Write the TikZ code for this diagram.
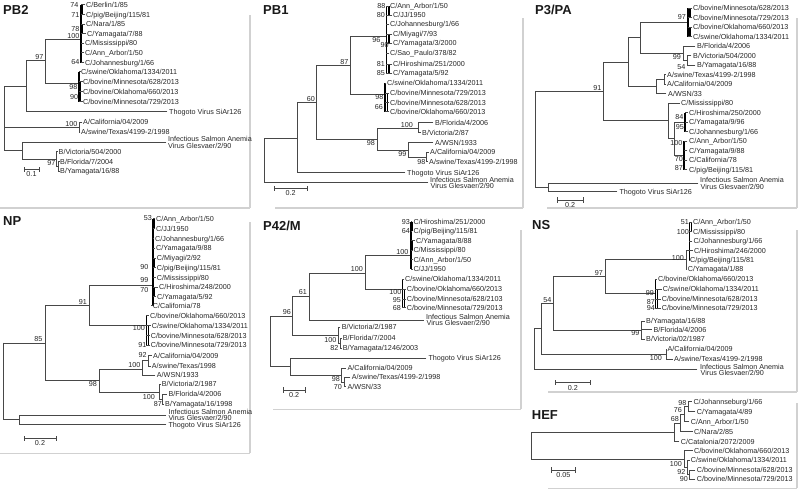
\documentclass[tikz,border=0pt]{standalone}
\usepackage{fontspec}
\setmainfont{Liberation Sans}
\newcommand\leaffont{\fontsize{7.2}{8}\selectfont}
\newcommand\paneltitlefont{\fontsize{13}{15}\selectfont\bfseries}
\tikzset{
  tl/.style={draw=black!72, line width=0.8pt, line cap=rect},
  cl/.style={draw=black, line width=1.3pt},
  fr/.style={draw=black!18, line width=1.6pt},
  lf/.style={anchor=west, inner sep=0pt, text height=5.2pt, text depth=0pt, font=\leaffont, text=black!85},
  bs/.style={anchor=east, inner sep=0pt, text height=5.2pt, text depth=0pt, font=\leaffont, text=black!85},
  sc/.style={anchor=center, inner sep=0pt, text height=5.2pt, text depth=0pt, font=\leaffont, text=black!85},
  ttl/.style={anchor=west, inner sep=0pt, text height=9.3pt, text depth=0pt, font=\paneltitlefont, text=black!90},
}
\newcommand\Lf[4]{\node[lf] (#1) at (#2,#3) {#4};}
\newcommand\Bs[4]{\node[bs] (#1) at (#2,#3) {#4};}
\newcommand\Sbar[5]{\draw[tl] (#2,#4-2.2) -- (#2,#4+2.2) (#2,#4) -- (#3,#4) (#3,#4-2.2) -- (#3,#4+2.2); \node[sc] (#1) at ({(#2+#3)/2},#4+5) {#5};}
\begin{document}
\begin{tikzpicture}[x=1pt,y=-1pt]
\useasboundingbox (0,0) rectangle (800,490);
% ================= frames
\draw[fr] (0,208) -- (250,208) (250,15) -- (250,208);
\draw[fr] (275,208) -- (523,208) (523,18) -- (523,208);
\draw[fr] (547,208) -- (797,208) (797,18) -- (797,208);
\draw[fr] (0,453.3) -- (250,453.3) (250,222) -- (250,453.3);
\draw[fr] (273,409.3) -- (521,409.3) (521,230) -- (521,409.3);
\draw[fr] (548,391.7) -- (797,391.7) (797,230) -- (797,391.7);
\draw[fr] (548,488.3) -- (797,488.3) (797,403) -- (797,488.3);
% ================= PB2
\node[ttl] (tPB2) at (3,10) {PB2};
\draw[tl] (4,86.2) -- (4,150.7) (4,86.2) -- (26,86.2) (26,60.7) -- (26,111.7) (26,111.7) -- (167,111.7)
  (26,60.7) -- (45,60.7) (45,39) -- (45,83.3) (45,39) -- (80.5,39);
\draw[cl] (81,4.7) -- (81,62.7) (82.8,4.7) -- (82.8,14.7) (82.8,24) -- (82.8,33.7);
\foreach \y/\x in {4.7/85,14.7/85,24/85,33.7/86,43.3/84,52.7/84,62.7/84} \draw[tl] (81,\y) -- (\x,\y);
\Lf{a1}{86}{4.7}{C/Berlin/1/85}
\Lf{a2}{86}{14.7}{C/pig/Beijing/115/81}
\Lf{a3}{86}{24}{C/Nara/1/85}
\Lf{a4}{87}{33.7}{C/Yamagata/7/88}
\Lf{a5}{85}{43.3}{C/Mississippi/80}
\Lf{a6}{85}{52.7}{C/Ann\_Arbor/1/50}
\Lf{a7}{85}{62.7}{C/Johannesburg/1/66}
\Bs{ab1}{78.5}{4.5}{74}
\Bs{ab2}{79.5}{14.7}{71}
\Bs{ab3}{79.5}{28.5}{78}
\Bs{ab4}{79.5}{35.5}{100}
\Bs{ab5}{79.5}{61.7}{64}
\Bs{ab6}{43.5}{56.5}{97}
\draw[tl] (45,83.3) -- (78.5,83.3);
\draw[cl] (79,71.7) -- (79,101.7) (80.7,81.7) -- (80.7,101.7);
\foreach \y/\x in {71.7/80.5,81.7/82.5,91.7/82.5,101.7/82.5} \draw[tl] (79,\y) -- (\x,\y);
\Lf{a8}{81}{71.7}{C/swine/Oklahoma/1334/2011}
\Lf{a9}{83}{81.7}{C/bovine/Minnesota/628/2013}
\Lf{a10}{83}{91.7}{C/bovine/Oklahoma/660/2013}
\Lf{a11}{83}{101.7}{C/bovine/Minnesota/729/2013}
\Bs{ab7}{77.5}{87.3}{98}
\Bs{ab8}{78.3}{96.7}{90}
\Lf{a12}{169}{111.7}{Thogoto Virus SiAr126}
\draw[tl] (4,127.3) -- (79,127.3) (79,122.3) -- (79,132.3) (79,122.3) -- (82,122.3) (79,132.3) -- (80,132.3);
\Lf{a13}{83}{122.3}{A/California/04/2009}
\Lf{a14}{81}{132.3}{A/swine/Texas/4199-2/1998}
\Bs{ab9}{77.5}{124}{100}
\draw[tl] (4,150.7) -- (22.7,150.7) (22.7,142.3) -- (22.7,159) (22.7,142.3) -- (166,142.3);
\Lf{a15}{168}{139.3}{Infectious Salmon Anemia}
\Lf{a16}{168}{145.5}{Virus Glesvaer/2/90}
\draw[tl] (22.7,159) -- (56.7,159) (56.7,151.7) -- (56.7,166.3) (56.7,151.7) -- (57.5,151.7)
  (56.7,166.3) -- (58.3,166.3) (58.3,161.7) -- (58.3,171) (58.3,161.7) -- (59.3,161.7) (58.3,171) -- (59.3,171);
\Lf{a17}{58.5}{151.7}{B/Victoria/504/2000}
\Lf{a18}{60}{161.7}{B/Florida/7/2004}
\Lf{a19}{60}{171}{B/Yamagata/16/88}
\Bs{ab10}{55.5}{162.7}{97}
\Sbar{asb}{24}{39}{169.3}{0.1}
% ================= PB1
\node[ttl] (tPB1) at (263,9.5) {PB1};
\draw[tl] (264,138) -- (264,182.5) (264,138) -- (297.7,138) (264,182.5) -- (428,182.5)
  (297.7,102.4) -- (297.7,172.7) (297.7,172.7) -- (405,172.7)
  (297.7,102.4) -- (316.7,102.4) (316.7,65.5) -- (316.7,139.3)
  (316.7,65.5) -- (350.7,65.5) (350.7,36.7) -- (350.7,94.3)
  (350.7,36.7) -- (386,36.7) (350.7,94.3) -- (384.5,94.3);
\draw[cl] (386.8,6) -- (386.8,73.3) (389,6) -- (389,15) (389,34) -- (389,43.3) (389,64) -- (389,73.3);
\foreach \y/\x in {6/389,15/392,24/389,34/392,43.3/392,53.3/389,64/392,73.3/392} \draw[tl] (386.8,\y) -- (\x,\y);
\Lf{b1}{390}{6}{C/Ann\_Arbor/1/50}
\Lf{b2}{393}{15}{C/JJ/1950}
\Lf{b3}{390}{24}{C/Johannesburg/1/66}
\Lf{b4}{393}{34}{C/Miyagi/7/93}
\Lf{b5}{393}{43.3}{C/Yamagata/3/2000}
\Lf{b6}{390}{53.3}{C/Sao\_Paulo/378/82}
\Lf{b7}{393}{64}{C/Hiroshima/251/2000}
\Lf{b8}{393}{73.3}{C/Yamagata/5/92}
\Bs{bb1}{385.5}{5.5}{88}
\Bs{bb2}{385}{15}{80}
\Bs{bb3}{380.5}{39.5}{96}
\Bs{bb4}{388.8}{44.5}{90}
\Bs{bb5}{385}{64}{81}
\Bs{bb6}{385}{73.3}{85}
\Bs{bb7}{348.5}{62}{87}
\Bs{bb8}{315}{98.7}{60}
\draw[cl] (385,83.3) -- (385,111.7) (387.5,93.3) -- (387.5,111.7);
\foreach \y/\x in {83.3/386,93.3/389,102.7/389,111.7/389} \draw[tl] (385,\y) -- (\x,\y);
\Lf{b9}{387}{83.3}{C/swine/Oklahoma/1334/2011}
\Lf{b10}{390}{93.3}{C/bovine/Minnesota/729/2013}
\Lf{b11}{390}{102.7}{C/bovine/Minnesota/628/2013}
\Lf{b12}{390}{111.7}{C/bovine/Oklahoma/660/2013}
\Bs{bb9}{383.5}{97.3}{98}
\Bs{bb10}{383}{107.3}{66}
\draw[tl] (316.7,139.3) -- (377.3,139.3) (377.3,128.3) -- (377.3,150)
  (377.3,128.3) -- (418,128.3) (418,122.7) -- (418,132.7) (418,122.7) -- (433,122.7) (418,132.7) -- (420.5,132.7)
  (377.3,150) -- (408.3,150) (408.3,142.7) -- (408.3,157) (408.3,142.7) -- (433,142.7)
  (408.3,157) -- (426.7,157) (426.7,152.3) -- (426.7,161.7) (426.7,152.3) -- (428.5,152.3) (426.7,161.7) -- (427.5,161.7);
\Bs{bb11}{375}{143}{98}
\Bs{bb12}{413}{124.5}{100}
\Bs{bb13}{406.5}{153.5}{99}
\Bs{bb14}{425.5}{161.7}{98}
\Lf{b13}{435}{122.7}{B/Florida/4/2006}
\Lf{b14}{422}{132.7}{B/Victoria/2/87}
\Lf{b15}{435}{142.7}{A/WSN/1933}
\Lf{b16}{430}{152.3}{A/California/04/2009}
\Lf{b17}{429}{161.7}{A/swine/Texas/4199-2/1998}
\Lf{b18}{407}{172.7}{Thogoto Virus SiAr126}
\Lf{b19}{430}{179.5}{Infectious Salmon Anemia}
\Lf{b20}{430.5}{185.7}{Virus Glesvaer/2/90}
\Sbar{bsb}{274}{307.3}{188.3}{0.2}
% ================= P3/PA
\node[ttl] (tP3) at (535,9.5) {P3/PA};
\draw[tl] (535,91.4) -- (535,187.5) (535,91.4) -- (603.3,91.4) (603.3,62.05) -- (603.3,120.8)
  (603.3,62.05) -- (628.3,62.05) (628.3,37.7) -- (628.3,86.4)
  (628.3,37.7) -- (640,37.7) (640,22.25) -- (640,53.1) (640,22.25) -- (687.5,22.25) (640,53.1) -- (683,53.1)
  (683,46) -- (683,60.25) (683,46) -- (695,46) (683,60.25) -- (687,60.25) (687,55.5) -- (687,65)
  (687,55.5) -- (691,55.5) (687,65) -- (695,65)
  (628.3,86.4) -- (656,86.4) (656,79.25) -- (656,93.5) (656,79.25) -- (664,79.25) (664,74.5) -- (664,84)
  (664,74.5) -- (665.5,74.5) (664,84) -- (665.5,84) (656,93.5) -- (666,93.5)
  (603.3,120.8) -- (668,120.8) (668,103) -- (668,138.6) (668,103) -- (679.5,103) (668,138.6) -- (674,138.6)
  (674,122) -- (674,155.25) (674,122) -- (685,122) (674,155.25) -- (684,155.25)
  (535,187.5) -- (548.3,187.5) (548.3,183.3) -- (548.3,191.7) (548.3,183.3) -- (698,183.3) (548.3,191.7) -- (617,191.7);
\draw[cl] (688,8) -- (688,36.5) (690,8) -- (690,17.5) (690,27) -- (690,36.5)
  (685,112.5) -- (685,131.5) (684,141) -- (684,169.5);
\foreach \y in {8,17.5,27,36.5} \draw[tl] (688,\y) -- (692,\y);
\foreach \y in {112.5,122,131.5} \draw[tl] (685,\y) -- (687.5,\y);
\foreach \y in {141,150.5,160,169.5} \draw[tl] (684,\y) -- (687,\y);
\Lf{c1}{693}{8}{C/bovine/Minnesota/628/2013}
\Lf{c2}{693}{17.5}{C/bovine/Minnesota/729/2013}
\Lf{c3}{693}{27}{C/bovine/Oklahoma/660/2013}
\Lf{c4}{693}{36.5}{C/swine/Oklahoma/1334/2011}
\Lf{c5}{697}{46}{B/Florida/4/2006}
\Lf{c6}{693}{55.5}{B/Victoria/504/2000}
\Lf{c7}{697}{65}{B/Yamagata/16/88}
\Lf{c8}{667}{74.5}{A/swine/Texas/4199-2/1998}
\Lf{c9}{667}{84}{A/California/04/2009}
\Lf{c10}{668}{93.5}{A/WSN/33}
\Lf{c11}{681}{103}{C/Mississippi/80}
\Lf{c12}{689}{112.5}{C/Hiroshima/250/2000}
\Lf{c13}{689}{122}{C/Yamagata/9/96}
\Lf{c14}{689}{131.5}{C/Johannesburg/1/66}
\Lf{c15}{689}{141}{C/Ann\_Arbor/1/50}
\Lf{c16}{689}{150.5}{C/Yamagata/9/88}
\Lf{c17}{689}{160}{C/California/78}
\Lf{c18}{689}{169.5}{C/pig/Beijing/115/81}
\Lf{c19}{700}{180.2}{Infectious Salmon Anemia}
\Lf{c20}{700.5}{186.4}{Virus Glesvaer/2/90}
\Lf{c21}{619.3}{191.7}{Thogoto Virus SiAr126}
\Bs{cb1}{601.5}{87.5}{91}
\Bs{cb2}{686}{17}{97}
\Bs{cb3}{681}{57}{99}
\Bs{cb4}{685.5}{66.5}{54}
\Bs{cb5}{683.5}{117}{84}
\Bs{cb6}{684}{126.5}{95}
\Bs{cb7}{682.5}{143}{100}
\Bs{cb8}{683}{158.5}{70}
\Bs{cb9}{683}{167.5}{87}
\Sbar{csb}{557}{583}{200}{0.2}
% ================= NP
\node[ttl] (tNP) at (3,221) {NP};
\draw[tl] (3.3,342.9) -- (3.3,419.7) (3.3,342.9) -- (45,342.9) (3.3,419.7) -- (19.3,419.7)
  (19.3,415) -- (19.3,424.3) (19.3,415) -- (166,415) (19.3,424.3) -- (166,424.3)
  (45,305.7) -- (45,380) (45,305.7) -- (89.3,305.7) (89.3,285.7) -- (89.3,325)
  (89.3,285.7) -- (152.5,285.7) (89.3,325) -- (146.5,325)
  (45,380) -- (99.3,380) (99.3,369) -- (99.3,392.3)
  (99.3,369) -- (142.7,369) (142.7,360.7) -- (142.7,375) (142.7,375) -- (155,375)
  (142.7,360.7) -- (148.3,360.7) (148.3,355.5) -- (148.3,366) (148.3,355.5) -- (151.5,355.5) (148.3,366) -- (150.2,366)
  (99.3,392.3) -- (159.3,392.3) (159.3,384.3) -- (159.3,399.3) (159.3,384.3) -- (160.3,384.3)
  (159.3,399.3) -- (162.7,399.3) (162.7,394.3) -- (162.7,404.3) (162.7,394.3) -- (166.8,394.3) (162.7,404.3) -- (163.7,404.3);
\draw[cl] (153,218.5) -- (153,305.7) (154.6,218.5) -- (154.6,228.5) (154.6,258.3) -- (154.6,267.7) (154.6,287.3) -- (154.6,296.7);
\foreach \y/\x in {218.5/155,228.5/155,238.5/154,248.3/155,258.3/155.5,267.7/155.5,277.7/155.5,287.3/157.5,296.7/155.5,305.7/151.5} \draw[tl] (153,\y) -- (\x,\y);
\draw[cl] (146.7,315.7) -- (146.7,345) (148.4,325.7) -- (148.4,345);
\foreach \y/\x in {315.7/148.7,325.7/150.3,335.7/149.3,345/149.3} \draw[tl] (146.7,\y) -- (\x,\y);
\Lf{d1}{156}{218.5}{C/Ann\_Arbor/1/50}
\Lf{d2}{156}{228.5}{C/JJ/1950}
\Lf{d3}{155}{238.5}{C/Johannesburg/1/66}
\Lf{d4}{156}{248.3}{C/Yamagata/9/88}
\Lf{d5}{156.7}{258.3}{C/Miyagi/2/92}
\Lf{d6}{156.7}{267.7}{C/pig/Beijing/115/81}
\Lf{d7}{156.7}{277.7}{C/Mississippi/80}
\Lf{d8}{159}{287.3}{C/Hiroshima/248/2000}
\Lf{d9}{157}{296.7}{C/Yamagata/5/92}
\Lf{d10}{152.7}{305.7}{C/California/78}
\Lf{d11}{150}{315.7}{C/bovine/Oklahoma/660/2013}
\Lf{d12}{151.7}{325.7}{C/swine/Oklahoma/1334/2011}
\Lf{d13}{150.7}{335.7}{C/bovine/Minnesota/628/2013}
\Lf{d14}{150.7}{345}{C/bovine/Minnesota/729/2013}
\Lf{d15}{153}{355.5}{A/California/04/2009}
\Lf{d16}{151.7}{366}{A/swine/Texas/1998}
\Lf{d17}{156.7}{375}{A/WSN/1933}
\Lf{d18}{161.7}{384.3}{B/Victoria/2/1987}
\Lf{d19}{168.3}{394.3}{B/Florida/4/2006}
\Lf{d20}{165}{404.3}{B/Yamagata/16/1998}
\Lf{d21}{168.3}{411.7}{Infectious Salmon Anemia}
\Lf{d22}{168.3}{417.9}{Virus Glesvaer/2/90}
\Lf{d23}{168.3}{424.6}{Thogoto Virus SiAr126}
\Bs{db1}{152}{218}{53}
\Bs{db2}{148.5}{266.7}{90}
\Bs{db3}{148.5}{280}{99}
\Bs{db4}{148.5}{290}{70}
\Bs{db5}{145}{328.3}{100}
\Bs{db6}{146.5}{345}{91}
\Bs{db7}{146.8}{355}{92}
\Bs{db8}{140.5}{365}{100}
\Bs{db9}{155}{396.7}{100}
\Bs{db10}{162}{404.3}{87}
\Bs{db11}{87}{301.7}{91}
\Bs{db12}{42.5}{339}{85}
\Bs{db13}{97}{384.3}{98}
\Sbar{dsb}{24}{56}{438.3}{0.2}
% ================= P42/M
\node[ttl] (tP42) at (263,225.5) {P42/M};
\draw[tl] (270,316) -- (270,366.7) (270,316) -- (292.7,316) (292.7,296.7) -- (292.7,335.3)
  (292.7,296.7) -- (309.3,296.7) (309.3,273.3) -- (309.3,320) (309.3,320) -- (423.3,320)
  (309.3,273.3) -- (365,273.3) (365,255.7) -- (365,289) (365,255.7) -- (410.5,255.7) (365,289) -- (402,289)
  (292.7,335.3) -- (338.3,335.3) (338.3,327.3) -- (338.3,343.3) (338.3,327.3) -- (340,327.3)
  (338.3,343.3) -- (340.7,343.3) (340.7,338.3) -- (340.7,348.3) (340.7,338.3) -- (341.5,338.3) (340.7,348.3) -- (341.5,348.3)
  (270,366.7) -- (290,366.7) (290,358.3) -- (290,375.2) (290,358.3) -- (426,358.3)
  (290,375.2) -- (341.7,375.2) (341.7,368.3) -- (341.7,382) (341.7,368.3) -- (345.5,368.3)
  (341.7,382) -- (344,382) (344,377.3) -- (344,386.7) (344,377.3) -- (350,377.3) (344,386.7) -- (345.5,386.7);
\draw[cl] (411,221.5) -- (411,269) (412.6,221.5) -- (412.6,231) (412.6,240.5) -- (412.6,250);
\foreach \y/\x in {221.5/412,231/412,240.5/415,250/412.3,259.5/412.3,269/412.3} \draw[tl] (411,\y) -- (\x,\y);
\draw[cl] (402.7,279.3) -- (402.7,307.7) (404.4,289) -- (404.4,307.7);
\foreach \y/\x in {279.3/404,289/405.7,299/405.7,307.7/405.7} \draw[tl] (402.7,\y) -- (\x,\y);
\Lf{e1}{413.5}{221.5}{C/Hiroshima/251/2000}
\Lf{e2}{413.5}{231}{C/pig/Beijing/115/81}
\Lf{e3}{416}{240.5}{C/Yamagata/8/88}
\Lf{e4}{413.3}{250}{C/Mississippi/80}
\Lf{e5}{413.3}{259.5}{C/Ann\_Arbor/1/50}
\Lf{e6}{413.3}{269}{C/JJ/1950}
\Lf{e7}{405}{279.3}{C/swine/Oklahoma/1334/2011}
\Lf{e8}{406.7}{289}{C/bovine/Oklahoma/660/2013}
\Lf{e9}{406.7}{299}{C/bovine/Minnesota/628/2103}
\Lf{e10}{406.7}{307.7}{C/bovine/Minnesota/729/2013}
\Lf{e11}{426}{316.7}{Infectious Salmon Anemia}
\Lf{e12}{426.5}{322.9}{Virus Glesvaer/2/90}
\Lf{e13}{341.7}{327.3}{B/Victoria/2/1987}
\Lf{e14}{342.7}{338.3}{B/Florida/7/2004}
\Lf{e15}{342.7}{348.3}{B/Yamagata/1246/2003}
\Lf{e16}{428.3}{358.3}{Thogoto Virus SiAr126}
\Lf{e17}{347.3}{368.3}{A/California/04/2009}
\Lf{e18}{351.7}{377.3}{A/swine/Texas/4199-2/1998}
\Lf{e19}{347.3}{386.7}{A/WSN/33}
\Bs{eb1}{410}{221.5}{93}
\Bs{eb2}{410}{231}{64}
\Bs{eb3}{408.5}{251.5}{100}
\Bs{eb4}{401.5}{292.3}{100}
\Bs{eb5}{401}{300}{95}
\Bs{eb6}{401}{307.7}{68}
\Bs{eb7}{363}{268.8}{100}
\Bs{eb8}{307}{292.3}{61}
\Bs{eb9}{291}{312.3}{96}
\Bs{eb10}{336.7}{340}{100}
\Bs{eb11}{338.5}{348.3}{82}
\Bs{eb12}{340}{379.3}{98}
\Bs{eb13}{342}{386.7}{70}
\Sbar{esb}{283.3}{305}{390}{0.2}
% ================= NS
\node[ttl] (tNS) at (532,225) {NS};
\draw[tl] (534,328.8) -- (534,369.5) (534,328.8) -- (541,328.8) (534,369.5) -- (697,369.5)
  (541,303.45) -- (541,354.15) (541,303.45) -- (553.3,303.45) (541,354.15) -- (666,354.15)
  (666,349.3) -- (666,359) (666,349.3) -- (666.5,349.3) (666,359) -- (672.5,359)
  (553.3,276.75) -- (553.3,330.15) (553.3,276.75) -- (605,276.75) (605,259.65) -- (605,293.8)
  (605,259.65) -- (686,259.65) (686,250) -- (686,269.3) (686,269.3) -- (686.5,269.3) (686,250) -- (689.5,250)
  (605,293.8) -- (655.5,293.8)
  (553.3,330.15) -- (641.7,330.15) (641.7,321) -- (641.7,339.3) (641.7,321) -- (644.5,321)
  (641.7,329.7) -- (651.8,329.7) (641.7,339.3) -- (644.5,339.3);
\draw[cl] (689.8,222) -- (689.8,260) (691.5,222) -- (691.5,231.5);
\foreach \y/\x in {222/692,231.5/692,241/692,250.7/692.5,260/689} \draw[tl] (689.8,\y) -- (\x,\y);
\draw[cl] (655.5,279.3) -- (655.5,308.3) (657.3,289) -- (657.3,308.3);
\foreach \y/\x in {279.3/656.5,289/661.2,299/660.2,308.3/660.2} \draw[tl] (655.5,\y) -- (\x,\y);
\Lf{f1}{693}{222}{C/Ann\_Arbor/1/50}
\Lf{f2}{693}{231.5}{C/Mississippi/80}
\Lf{f3}{693.3}{241}{C/Johannesburg/1/66}
\Lf{f4}{694}{250.7}{C/Hiroshima/246/2000}
\Lf{f5}{690}{260}{C/pig/Beijing/115/81}
\Lf{f6}{687.7}{269.3}{C/Yamagata/1/88}
\Lf{f7}{658}{279.3}{C/bovine/Oklahoma/660/2013}
\Lf{f8}{662.7}{289}{C/swine/Oklahoma/1334/2011}
\Lf{f9}{661.7}{299}{C/bovine/Minnesota/628/2013}
\Lf{f10}{661.7}{308.3}{C/bovine/Minnesota/729/2013}
\Lf{f11}{646}{321}{B/Yamagata/16/88}
\Lf{f12}{653.3}{329.7}{B/Florida/4/2006}
\Lf{f13}{646}{339.3}{B/Victoria/02/1987}
\Lf{f14}{667.3}{349.3}{A/California/04/2009}
\Lf{f15}{674}{359}{A/swine/Texas/4199-2/1998}
\Lf{f16}{700}{366.5}{Infectious Salmon Anemia}
\Lf{f17}{700.5}{372.7}{Virus Glesvaer/2/90}
\Bs{fb1}{689}{222}{51}
\Bs{fb2}{689}{231.5}{100}
\Bs{fb3}{684}{257.7}{100}
\Bs{fb4}{654}{293.3}{99}
\Bs{fb5}{655}{301.7}{87}
\Bs{fb6}{655}{308.3}{94}
\Bs{fb7}{639.5}{333.3}{99}
\Bs{fb8}{662}{358.3}{100}
\Bs{fb9}{603}{272.5}{97}
\Bs{fb10}{551.5}{299.5}{54}
\Sbar{fsb}{555}{590.7}{382.7}{0.2}
% ================= HEF
\node[ttl] (tHEF) at (531.7,415.3) {HEF};
\draw[tl] (531.7,432.3) -- (531.7,459) (531.7,432.3) -- (674,432.3) (674,423) -- (674,441.7) (674,441.7) -- (679,441.7)
  (674,423) -- (680,423) (680,414.2) -- (680,431.7) (680,431.7) -- (692.5,431.7)
  (680,414.2) -- (684,414.2) (684,406.7) -- (684,421.7) (684,421.7) -- (689,421.7)
  (684,406.7) -- (688,406.7) (688,401.7) -- (688,411.7) (688,401.7) -- (691.8,401.7) (688,411.7) -- (695,411.7)
  (531.7,459) -- (684,459) (684,450.7) -- (684,467.3) (684,450.7) -- (692.5,450.7)
  (684,467.3) -- (687,467.3) (687,460) -- (687,474.7) (687,460) -- (689.2,460)
  (687,474.7) -- (689.5,474.7) (689.5,470) -- (689.5,479.3) (689.5,470) -- (695,470) (689.5,479.3) -- (695,479.3);
\Lf{g1}{693.3}{401.7}{C/Johannseburg/1/66}
\Lf{g2}{696.7}{411.7}{C/Yamagata/4/89}
\Lf{g3}{690.7}{421.7}{C/Ann\_Arbor/1/50}
\Lf{g4}{694}{431.7}{C/Nara/2/85}
\Lf{g5}{680.7}{441.7}{C/Catalonia/2072/2009}
\Lf{g6}{694}{450.7}{C/bovine/Oklahoma/660/2013}
\Lf{g7}{690.7}{460}{C/swine/Oklahoma/1334/2011}
\Lf{g8}{696.7}{470}{C/bovine/Minnesota/628/2013}
\Lf{g9}{696.7}{479.3}{C/bovine/Minnesota/729/2013}
\Bs{gb1}{686.5}{402.7}{98}
\Bs{gb2}{682}{410}{76}
\Bs{gb3}{679}{419.3}{68}
\Bs{gb4}{682}{464}{100}
\Bs{gb5}{685.5}{471.7}{92}
\Bs{gb6}{688}{479.3}{90}
\Sbar{gsb}{551.7}{575}{470}{0.05}
\end{tikzpicture}
\end{document}
